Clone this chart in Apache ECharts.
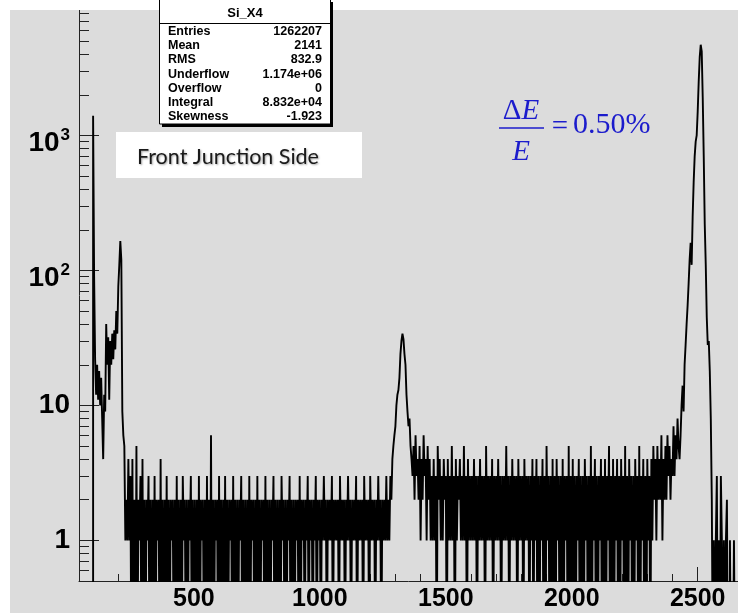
<!DOCTYPE html>
<html><head><meta charset="utf-8">
<script src="https://cdn.jsdelivr.net/npm/echarts@6/dist/echarts.min.js"></script>
<style>html,body{margin:0;padding:0;background:#fff}#c{width:738px;height:613px}</style>
</head><body><div id="c"></div>
<script>
// ---- data (histogram Si_X4, bin width 4 channels starting at 44) ----
const binStart = 44;
const binWidth = 4;
const leftZeros = [0,0,0,0,0,0,0,0,0,0,0,0,0,0];
const lowPeak = [1400,90,22,12,20,11,18,10,16,8,4,12,9,40,20,32,11,30,20,34,22,36,26,50,34,76,110,165,120,9,6];
const flat1 = [
5,1,2,1,4,1,3,0,4,0,2,0,5,0,2,1,3,0,4,0,
2,0,2,1,3,0,2,0,2,0,3,0,2,1,2,0,4,0,2,0,
2,0,3,0,2,0,2,1,2,0,2,0,3,0,2,0,2,0,3,1,
2,0,2,0,2,1,3,0,2,0,2,0,2,0,3,0,2,1,2,0,
2,0,3,0,2,0,6,0,2,0,2,1,2,0,3,0,2,0,2,0,
3,0,2,0,2,1,2,0,3,0,2,0,2,0,2,1,3,0,2,0,
2,0,2,0,3,0,2,1,2,0,2,0,3,0,2,0,2,1,2,0,
3,0,2,0,2,0,2,1,3,0,2,0,2,0,2,0,3,1,2,0,
2,0,2,1,3,0,2,0,2,0,2,1,2,0,3,0,2,1,2,0,
2,1,3,0,2,1,2,0,2,1,3,0,2,1,2,0,2,1,3,1,
2,0,2,1,2,1,3,0,2,1,2,1,2,0,3,1,2,1,2,0,
2,1,3,1,2,0,2,1,2,1,3,0,2,1,2,1,2,0,3,1,
2,1,2,0,3,1,2,1,2,0,2,1,3,1,2,0,2,1,2,1,
3,1,2,1,3,2];
const peak2 = [4,5,6,7,10,12,13,16,24,30,34,31,24,20,12,9,7,8,5,4];
const flat2 = [
3,5,2,6,3,4,2,5,1,4,2,6,3,4,1,5,2,4,1,3,
1,4,1,3,0,5,2,4,1,3,1,4,2,3,0,4,1,3,1,5,
1,3,0,4,1,3,2,4,1,3,1,5,1,3,0,4,1,3,1,3,
1,4,1,3,0,3,1,4,1,3,1,3,0,5,1,3,1,3,1,4,
0,3,1,3,1,4,1,3,0,3,1,3,1,5,1,3,0,3,1,4,
1,3,1,3,0,4,1,3,1,3,0,4,1,3,1,3,0,3,1,4,
0,3,1,4,0,3,0,3,1,4,0,3,0,5,1,3,0,3,0,4,
0,3,0,4,1,3,0,3,0,4,0,3,1,3,0,5,0,3,0,4,
0,3,0,3,1,4,0,3,0,3,0,4,1,3,0,3,0,5,0,3,
1,4,0,3,0,3,1,4,0,3,0,4,0,3,1,5,0,3,0,4,
0,3,1,4,0,3,0,4,1,3,0,5,0,3,0,4,1,3,0,3,
0,4,1,3,0,5,0,3,1,4,0,3,0,4,1,3,0,4,1,5,
2,4,1,5,2,4,2,6,1,4,2,5,2,6,3,5,2,4,3,7,
3,6,4,8,5];
const peak3 = [4,6,10,14,9,20,28,40,55,80,120,160,110,250,450,700,900,1000,1500,2500,3800,4700,4200,1900,700,220,110,45,28,30,18,8];
const tail = [2,0,1,0,1,3,0,1,0,3,1,0,1,0,1,2,0,0,1,0,0,0,1,0,0,0];

const xTickLabels = [500,1000,1500,2000,2500];
const xMinorTicks = [100,200,300,400,600,700,800,900,1100,1200,1300,1400,1600,1700,1800,1900,2100,2200,2300,2400,2600];
const yTickLabels = [1,10,100,1000];
const yMinorTicks = [0.6,0.7,0.8,0.9,2,3,4,5,6,7,8,9,20,30,40,50,60,70,80,90,200,300,400,500,600,700,800,900,2000,3000,4000,5000,6000,7000,8000];

const statsTitle = 'Si_X4';
const statsLabels = ['Entries','Mean','RMS','Underflow','Overflow','Integral','Skewness'];
const statsValues = ['1262207','2141','832.9','1.174e+06','0','8.832e+04','-1.923'];

// ---- build ----
const counts = [].concat(leftZeros, lowPeak, flat1, peak2, flat2, peak3, tail);
const shown = v => (v > 0 ? v : 0.1);
const histData = counts.map((v, i) => [binStart + i * binWidth, shown(v)]);
histData.push([binStart + counts.length * binWidth, shown(counts[counts.length - 1])]);

const xMin = 44, xMax = 2660, yMin = 0.5, yMax = 8500;
const font = 'Liberation Sans, Arial, Helvetica, sans-serif';
const serif = 'Liberation Serif, Times New Roman, serif';
const blue = '#1c1ccc';

const statsGraphics = [];
statsGraphics.push({type:'rect', shape:{x:162, y:2, width:171, height:125}, style:{fill:'#000'}, z:100});
statsGraphics.push({type:'rect', shape:{x:159.5, y:-1, width:171, height:125}, style:{fill:'#fff', stroke:'#000', lineWidth:1}, z:101});
statsGraphics.push({type:'line', shape:{x1:159.5, y1:23.5, x2:330.5, y2:23.5}, style:{stroke:'#000', lineWidth:1}, z:102});
statsGraphics.push({type:'text', x:245, y:13, style:{text:statsTitle, font:'bold 13px ' + font, fill:'#000', align:'center', verticalAlign:'middle'}, z:103});
statsLabels.forEach((lab, k) => {
  const y = 31.5 + k * 14.2;
  statsGraphics.push({type:'text', x:168, y:y, style:{text:lab, font:'bold 12.5px ' + font, fill:'#000', align:'left', verticalAlign:'middle'}, z:103});
  statsGraphics.push({type:'text', x:322, y:y, style:{text:statsValues[k], font:'bold 12.5px ' + font, fill:'#000', align:'right', verticalAlign:'middle'}, z:103});
});

const chart = echarts.init(document.getElementById('c'), null, {renderer:'canvas'});
chart.setOption({
  animation:false,
  backgroundColor:'#dcdcdc',
  grid:{left:79, top:10, right:0, bottom:32, containLabel:false, outerBoundsMode:'none'},
  xAxis:[
    {type:'value', min:xMin, max:xMax, position:'bottom',
     axisLine:{show:true, lineStyle:{color:'#222', width:1}},
     splitLine:{show:false},
     axisTick:{show:true, inside:true, length:14, customValues:xTickLabels, lineStyle:{color:'#222'}},
     axisLabel:{customValues:xTickLabels, margin:6, color:'#000', fontFamily:font, fontWeight:'bold', fontSize:25,
       formatter: v => String(Math.round(v))}},
    {type:'value', min:xMin, max:xMax, position:'bottom', offset:0,
     axisLine:{show:false}, splitLine:{show:false}, axisLabel:{show:false},
     axisTick:{show:true, inside:true, length:7, customValues:xMinorTicks, lineStyle:{color:'#222'}}}
  ],
  yAxis:[
    {type:'log', logBase:10, min:yMin, max:yMax, position:'left',
     axisLine:{show:true, lineStyle:{color:'#222', width:1}},
     splitLine:{show:false}, minorTick:{show:false},
     axisTick:{show:true, inside:true, length:20, customValues:yTickLabels, lineStyle:{color:'#222'}},
     axisLabel:{customValues:yTickLabels, margin:9, color:'#000', fontFamily:font, fontWeight:'bold', fontSize:28,
       formatter: v => { const e = Math.round(Math.log10(v)); return e <= 1 ? String(Math.round(v)) : '{b|10}{s|' + e + '}'; },
       rich:{ b:{fontFamily:font, fontWeight:'bold', fontSize:28, lineHeight:28, color:'#000', padding:[16,0,0,0]},
              s:{fontFamily:font, fontWeight:'bold', fontSize:17, lineHeight:17, color:'#000', padding:[0,0,0,1]} }}},
    {type:'log', logBase:10, min:yMin, max:yMax, position:'left', offset:0,
     axisLine:{show:false}, splitLine:{show:false}, axisLabel:{show:false}, minorTick:{show:false},
     axisTick:{show:true, inside:true, length:10, customValues:yMinorTicks, lineStyle:{color:'#222'}}}
  ],
  graphic:[
    {type:'rect', shape:{x:0, y:0, width:738, height:10}, style:{fill:'#fff'}, z:1},
    {type:'rect', shape:{x:0, y:0, width:10, height:613}, style:{fill:'#fff'}, z:1},
    ...statsGraphics,
    {type:'rect', shape:{x:116, y:132, width:246, height:46}, style:{fill:'#fff'}, z:100},
    {type:'text', x:137, y:157, style:{text:'Front Junction Side', font:'21.5px Lato, "Open Sans", sans-serif', fill:'#1a1a1a', align:'left', verticalAlign:'middle',
      textShadowColor:'rgba(0,0,0,0.35)', textShadowBlur:2, textShadowOffsetX:1, textShadowOffsetY:1}, z:101},
    {type:'text', x:521, y:111, style:{text:'{u|Δ}{i|E}', align:'center', verticalAlign:'middle',
      rich:{u:{font:'29px ' + serif, fill:blue}, i:{font:'italic 29px ' + serif, fill:blue}}}, z:101},
    {type:'line', shape:{x1:499, y1:128, x2:544, y2:128}, style:{stroke:blue, lineWidth:1.5}, z:101},
    {type:'text', x:521, y:152, style:{text:'E', font:'italic 29px ' + serif, fill:blue, align:'center', verticalAlign:'middle'}, z:101},
    {type:'text', x:560, y:127, style:{text:'=', font:'29px ' + serif, fill:blue, align:'center', verticalAlign:'middle'}, z:101},
    {type:'text', x:573, y:125, style:{text:'0.50%', font:'30px ' + serif, fill:blue, align:'left', verticalAlign:'middle'}, z:101}
  ],
  series:[{
    type:'line', xAxisIndex:0, yAxisIndex:0, data:histData, step:'end',
    showSymbol:false, symbol:'none', clip:true, silent:true,
    lineStyle:{color:'#000', width:1.9}
  }]
});
</script></body></html>
